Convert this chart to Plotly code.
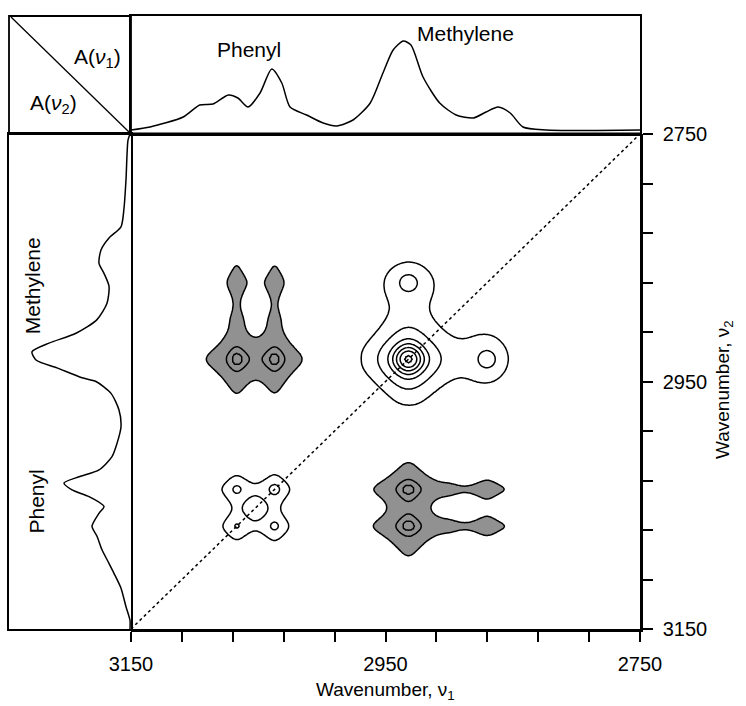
import numpy as np
import plotly.graph_objects as go

W, H = 746, 706
FONT = "Liberation Sans, Arial, sans-serif"

# ---------------- data ----------------
# Top spectrum A(nu1)
top_nu = [3150, 3135, 3109, 3096, 3085.5, 3073.5, 3066, 3058, 3048.6, 3039.4, 3031.5,
          3025, 3012, 2999, 2988.4, 2975.5, 2962, 2952, 2944, 2936, 2930, 2920.5,
          2907.4, 2894.5, 2881, 2871, 2861.5, 2852, 2842, 2823.8, 2750]
top_abs = [0.0, 0.03, 0.13, 0.25, 0.26, 0.35, 0.32, 0.23, 0.37, 0.61, 0.47,
           0.23, 0.15, 0.07, 0.04, 0.10, 0.27, 0.57, 0.80, 0.89, 0.85, 0.53,
           0.27, 0.15, 0.12, 0.18, 0.23, 0.17, 0.03, 0.0, 0.0]

# Left spectrum A(nu2)
left_nu = [2750, 2755, 2787, 2810, 2825, 2834, 2843.7, 2854.5, 2862.6, 2873, 2886.8,
           2900, 2911, 2919, 2926, 2932.6, 2939, 2947, 2950, 2959.6, 2973, 2986.5,
           3000, 3010.7, 3021.5, 3027, 3032, 3037.6, 3043, 3051, 3056.5, 3067, 3075,
           3086, 3097, 3105, 3117, 3132, 3143, 3150]
left_abs = [0.0, 0.02, 0.04, 0.06, 0.09, 0.21, 0.29, 0.31, 0.26, 0.21, 0.23,
            0.33, 0.54, 0.81, 0.98, 0.94, 0.73, 0.48, 0.34, 0.19, 0.11, 0.09,
            0.13, 0.18, 0.31, 0.51, 0.66, 0.58, 0.41, 0.26, 0.31, 0.38, 0.33,
            0.28, 0.21, 0.16, 0.09, 0.04, 0.0, 0.0]

# 2D synchronous correlation peaks (nu1, nu2, intensity, half-widths, shape coupling)
pk_nu1 = [2932, 2932, 2932, 2870, 3037, 3067, 3067, 3067, 3037, 3067, 3037, 3067, 3037]
pk_nu2 = [2932, 2870, 2870, 2870, 3037, 3067, 3037, 2932, 2932, 2870, 2870, 2900, 2900]
pk_amp = [0.95, 0.14, 0.07, 0.05, 0.175, 0.145, 0.16, -0.50, -0.50, -0.19, -0.19, -0.05, -0.05]
pk_w1 = [11, 7, 20, 5, 9, 9, 9, 9, 9, 5, 5, 5, 5]
pk_w2 = [11, 7, 14, 5, 9, 9, 9, 11, 11, 9, 9, 10, 10]
pk_k = [0.25, 0, 0, 0, 1, 1, 1, 1, 1, 1, 1, 1, 1]

pos_levels = [0.07, 0.16, 0.30, 0.42, 0.55, 0.70, 0.88]
neg_levels = [-0.45, -0.30, -0.07]

x_ticks = list(range(3150, 2749, -40))
x_labels = {3150: "3150", 2950: "2950", 2750: "2750"}

# ---------------- build the map ----------------
nu = np.arange(2815, 3121, 1.0)
X, Y = np.meshgrid(nu, nu)
Z = np.zeros_like(X)


def peak(c1, c2, a, g1, g2, k):
    u = ((X - c1) / g1) ** 2
    v = ((Y - c2) / g2) ** 2
    return a / (1 + u + v + k * u * v)


for c1, c2, a, g1, g2, k in zip(pk_nu1, pk_nu2, pk_amp, pk_w1, pk_w2, pk_k):
    Z += peak(c1, c2, a, g1, g2, k)
    if c1 != c2:  # synchronous map is symmetric
        Z += peak(c2, c1, a, g2, g1, k)

levels = sorted(neg_levels + pos_levels)
N = len(levels)
Zi = np.interp(Z, [-10] + levels + [10], [0] + list(range(1, N + 1)) + [N + 1]).round(3)
neg_idx = levels.index(max(neg_levels)) + 1


def px(x):
    return x / W


def py(y):
    return 1 - y / H


x_main = [px(131), px(640)]
y_main = [py(629), py(134)]
y_top = [py(134), py(16)]
x_left = [px(9), px(131)]

fig = go.Figure()

# hatched (negative) regions
fig.add_trace(go.Contour(
    x=nu, y=nu, z=Zi, xaxis="x", yaxis="y",
    contours=dict(type="constraint", operation=">", value=neg_idx),
    fillcolor="rgba(55,55,55,0.55)", line=dict(width=0),
    showscale=False, hoverinfo="skip"))

fig.add_trace(go.Contour(
    x=nu, y=nu, z=Zi, xaxis="x", yaxis="y",
    contours=dict(start=1, end=N, size=1, coloring="lines"),
    colorscale=[[0, "black"], [1, "black"]], line=dict(width=1.5),
    showscale=False, hoverinfo="skip"))

fig.add_trace(go.Scatter(
    x=[3150, 2750], y=[3150, 2750], mode="lines", xaxis="x", yaxis="y",
    line=dict(color="black", width=1.5, dash="dot"), hoverinfo="skip"))

fig.add_trace(go.Scatter(
    x=top_nu, y=top_abs, mode="lines", xaxis="x2", yaxis="y2",
    line=dict(color="black", width=1.5, shape="spline", smoothing=0.7), hoverinfo="skip"))

fig.add_trace(go.Scatter(
    x=left_abs, y=left_nu, mode="lines", xaxis="x3", yaxis="y3",
    line=dict(color="black", width=1.5, shape="spline", smoothing=0.7), hoverinfo="skip"))

tickfont = dict(family=FONT, size=20, color="black")
common = dict(showgrid=False, zeroline=False, automargin=False, linecolor="black")
fig.update_layout(
    width=W, height=H, margin=dict(l=0, r=0, t=0, b=0, autoexpand=False),
    paper_bgcolor="white", plot_bgcolor="white", showlegend=False,
    font=dict(family=FONT, size=19, color="black"),
    xaxis=dict(domain=x_main, range=[3150, 2750], anchor="y", **common,
               showline=True, linewidth=2.5, ticks="outside", ticklen=10,
               tickwidth=1.5, tickcolor="black", tickvals=x_ticks,
               ticktext=[x_labels.get(v, "") for v in x_ticks], tickfont=tickfont,
               ticklabelstandoff=5),
    yaxis=dict(domain=y_main, range=[3150, 2750], anchor="x", side="right", **common,
               showline=True, linewidth=2.5,
               ticks="outside", ticklen=10, tickwidth=1.5, tickcolor="black",
               tickvals=x_ticks, ticktext=[x_labels.get(v, "") for v in x_ticks],
               tickfont=tickfont, ticklabelstandoff=6),
    xaxis2=dict(domain=x_main, range=[3150, 2750], anchor="y2", **common,
                showline=True, mirror=True, linewidth=1.8,
                showticklabels=False, ticks=""),
    yaxis2=dict(domain=y_top, range=[-0.04, 1.14], anchor="x2", **common,
                showline=True, mirror=True, linewidth=1.8,
                showticklabels=False, ticks=""),
    xaxis3=dict(domain=x_left, range=[1.21, -0.01], anchor="y3", **common,
                showline=True, mirror=True, linewidth=1.8,
                showticklabels=False, ticks=""),
    yaxis3=dict(domain=y_main, range=[3150, 2750], anchor="x3", **common,
                showline=True, mirror=True, linewidth=1.8,
                showticklabels=False, ticks=""),
)

# separator between top panel and 2D map
fig.add_shape(type="line", xref="paper", yref="paper", x0=px(131), x1=px(640),
              y0=py(134), y1=py(134), line=dict(color="black", width=3))
# corner box
fig.add_shape(type="rect", xref="paper", yref="paper", x0=px(9), x1=px(131),
              y0=py(134), y1=py(16), line=dict(color="black", width=1.8))
fig.add_shape(type="line", xref="paper", yref="paper", x0=px(11), x1=px(130),
              y0=py(17), y1=py(133), line=dict(color="black", width=1.3))

ann = [
    dict(text="A(<i>ν</i><sub>1</sub>)", x=px(97), y=py(58), size=21),
    dict(text="A(<i>ν</i><sub>2</sub>)", x=px(53), y=py(104), size=21),
    dict(text="Phenyl", x=3057, y=0.80, xref="x2", yref="y2", size=21),
    dict(text="Methylene", x=2887, y=0.96, xref="x2", yref="y2", size=21),
    dict(text="Methylene", x=0.98, y=2873, xref="x3", yref="y3", textangle=-90, size=21),
    dict(text="Phenyl", x=0.93, y=3047, xref="x3", yref="y3", textangle=-90, size=21),
    dict(text="Wavenumber, ν<sub>1</sub>", x=px(385), y=py(691), size=19),
    dict(text="Wavenumber, ν<sub>2</sub>", x=px(724), y=py(390), textangle=-90, size=19),
]
for a in ann:
    a.setdefault("xref", "paper")
    a.setdefault("yref", "paper")
    size = a.pop("size")
    fig.add_annotation(showarrow=False, xanchor="center", yanchor="middle",
                       font=dict(family=FONT, size=size, color="black"), **a)

fig.write_html("out.html", config={"displayModeBar": False},
               post_script="document.body.style.margin='0';document.body.style.overflow='hidden';")
